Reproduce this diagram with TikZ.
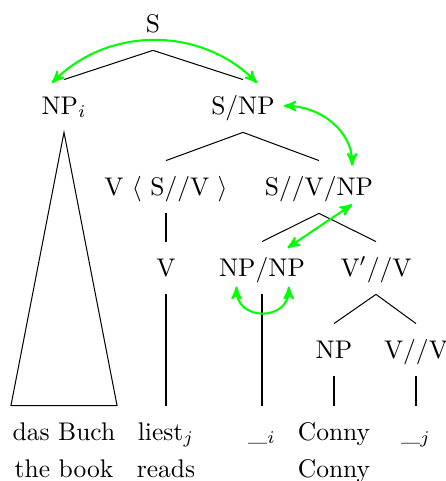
\documentclass[tikz,border=0pt]{standalone}
\usepackage{tikz}
\usetikzlibrary{arrows}

\begin{document}
\begin{tikzpicture}[>=stealth', x=0.392pt, y=0.392pt,
    cat/.style={anchor=base, inner ysep=7pt, text height=6.3pt, text depth=0pt},
    leaf/.style={anchor=base, inner xsep=0.5pt, inner ysep=7pt, text height=6.3pt, text depth=0pt},
    gloss/.style={anchor=base},
    link/.style={green, thick}]
    \useasboundingbox (0,0) rectangle (446,-481);

    % Nodes {s, npi, snp, vsv, svnp, etc}
    \node [cat]   (s)     at (153,-32)   {S};
    \node [cat]   (npi)   at (64,-114)   {NP$_i$};
    \node [cat]   (snp)   at (243,-114)  {S/NP};
    \node [cat]   (vsv)   at (166,-195)  {V $\langle$ S//V $\rangle$};
    \node [cat]   (svnp)  at (319,-195)  {S//V/NP};
    \node [cat]   (v)     at (166,-276)  {V};
    \node [cat]   (npnp)  at (262,-276)  {NP/NP};
    \node [cat]   (vpvv)  at (376,-276)  {V$'$//V};
    \node [cat]   (np)    at (334,-358)  {NP};
    \node [cat]   (vv)    at (416,-358)  {V//V};

    % Leaves and glosses
    \node [leaf]  (buch)  at (64,-440)   {das Buch};
    \node [leaf]  (liest) at (166,-440)  {liest$_j$};
    \node [leaf]  (gapi)  at (262,-440)  {\_$_i$};
    \node [leaf]  (conny) at (334,-440)  {Conny};
    \node [leaf]  (gapj)  at (416,-440)  {\_$_j$};
    \node [gloss] (book)  at (64,-477)   {the book};
    \node [gloss] (reads) at (166,-477)  {reads};
    \node [gloss] (connygl) at (334,-477) {Conny};

    % Branches
    \draw (s.south) -- (npi.north);
    \draw (s.south) -- (snp.north);
    \draw (npi.south) -- (buch.north west) -- (buch.north east) -- cycle;
    \draw (snp.south) -- (vsv.north);
    \draw (snp.south) -- (svnp.north);
    \draw (vsv.south) -- (v.north);
    \draw (v.south) -- (liest.north);
    \draw (svnp.south) -- (npnp.north);
    \draw (svnp.south) -- (vpvv.north);
    \draw (npnp.south) -- (gapi.north);
    \draw (vpvv.south) -- (np.north);
    \draw (vpvv.south) -- (vv.north);
    \draw (np.south) -- (conny.north);
    \draw (vv.south) -- (gapj.north);

    % Links
    \path [<->, link] ([xshift=-4.7pt,yshift=-1.3pt]npi.north) edge [bend left=45] ([xshift=5.5pt,yshift=-1.3pt]snp.north);
    \path [<->, link] (snp.east) edge [out=0, in=90] ([xshift=13pt,yshift=-2pt]svnp.north);
    \path [<->, link] ([xshift=10pt,yshift=-2.5pt]npnp.north) edge ([xshift=13pt,yshift=3.5pt]svnp.south);
    \path [<->, link] ([xshift=-10pt,yshift=3pt]npnp.south) edge [out=-90, in=-90, looseness=1.7] ([xshift=10.5pt,yshift=3pt]npnp.south);

\end{tikzpicture}
\end{document}
